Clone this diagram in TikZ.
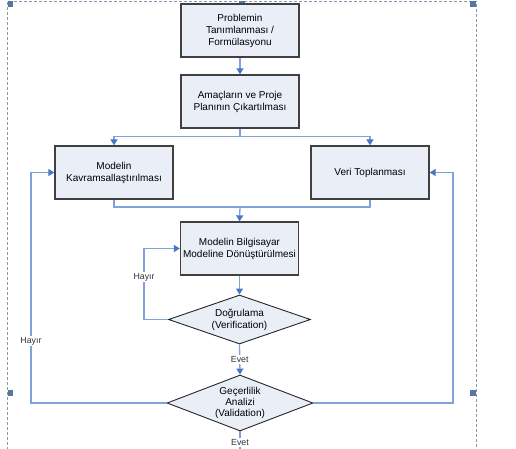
\documentclass[tikz,border=0pt]{standalone}
\usepackage{fontspec}
\setmainfont{Liberation Sans}
\usetikzlibrary{shapes.geometric,arrows.meta}
\definecolor{boxfill}{HTML}{E9EEF7}
\definecolor{boxline}{HTML}{404040}
\definecolor{conn}{HTML}{7EA3DB}
\definecolor{arrc}{HTML}{4A76C6}
\definecolor{framec}{HTML}{8496B0}
\definecolor{handlec}{HTML}{5577A0}
\tikzset{
  procbox/.style={draw=boxline,fill=boxfill,line width=1.3pt,minimum width=118pt,minimum height=53pt,inner sep=0pt,align=center,font=\fontsize{10}{12}\selectfont},
  decbox/.style={draw=black!85,fill=boxfill,line width=0.9pt,shape=diamond,inner sep=0pt,align=center,font=\fontsize{10}{12}\selectfont},
  conline/.style={draw=conn,line width=1.3pt},
  arr/.style={conline,-{Triangle[length=6pt,width=7pt,color=arrc]}},
  lbl/.style={fill=white,inner sep=1pt,font=\fontsize{8.8}{10}\selectfont,text=black!80},
  handle/.style={rectangle,fill=handlec,draw=none,minimum width=5.5pt,minimum height=5.5pt,inner sep=0pt},
}
\begin{document}
\begin{tikzpicture}[x=1pt,y=-1pt]
\useasboundingbox (0,0) rectangle (516,449);
% selection frame
\draw[framec,line width=0.8pt,dash pattern=on 3pt off 2pt] (7.7,460) -- (7.7,1.5) -- (476.3,1.5) -- (476.3,460);
\node[handle] (h1) at (10.3,4.2) {};
\node[handle] (h2) at (242,4.2) {};
\node[handle] (h3) at (473,4.2) {};
\node[handle] (h4) at (10.3,393) {};
\node[handle] (h5) at (473,393) {};
% nodes
\node[procbox] (b1) at (240,30.5) {Problemin\\Tanımlanması /\\Formülasyonu};
\node[procbox] (b2) at (240,101.5) {Amaçların ve Proje\\Planının Çıkartılması};
\node[procbox] (b3) at (114,172.5) {Modelin\\Kavramsallaştırılması};
\node[procbox] (b4) at (370,172.5) {Veri Toplanması};
\node[procbox] (b5) at (239.5,248.5) {Modelin Bilgisayar\\Modeline Dönüştürülmesi};
\node[decbox,minimum width=142pt,minimum height=49pt,aspect=2.9] (d1) at (239.5,319.5) {Doğrulama\\(Verification)};
\node[decbox,minimum width=146pt,minimum height=56pt,aspect=2.6,font=\fontsize{10}{11}\selectfont] (d2) at (240,403) {Geçerlilik\\Analizi\\(Validation)};
\coordinate (m) at (240,207);
\coordinate (e) at (240,456);
% connectors
\draw[arr] (b1) -- (b2);
\draw[arr] (b2.south) -- ++(0,8) -| (b3.north);
\draw[arr] (b2.south) -- ++(0,8) -| (b4.north);
\draw[conline] (b3.south) |- (m) -| (b4.south);
\draw[arr] (m) -- (b5.north);
\draw[arr] (b5) -- (d1);
\draw[arr] (d1.west) -- ++(-24,0) |- node[lbl,pos=0.3] {Hayır} (b5.west);
\draw[arr] (d1.south) -- node[lbl] {Evet} (d2.north);
\draw[arr] (d2.west) -- (31,403) |- node[lbl,pos=0.134] {Hayır} (b3.west);
\draw[arr] (d2.east) -- (453,403) |- (b4.east);
\draw[conline] (d2.south) -- node[lbl,pos=0.45] {Evet} (e);
\end{tikzpicture}
\end{document}
